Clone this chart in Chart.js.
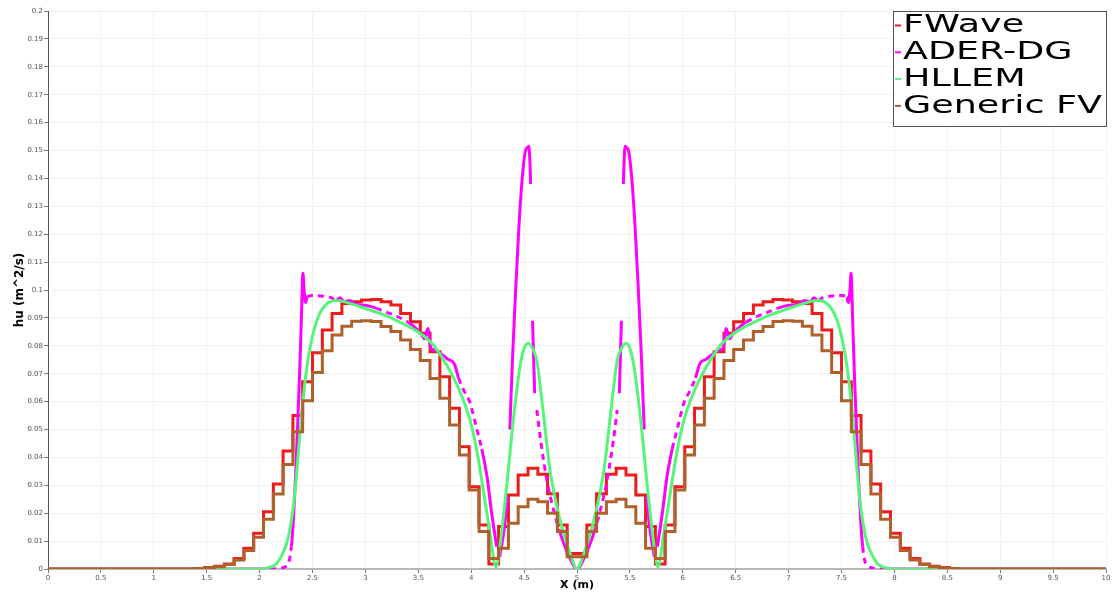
<!DOCTYPE html>
<html lang="en">
<head>
<meta charset="UTF-8">
<title>hu profiles</title>
<script src="https://cdn.jsdelivr.net/npm/chart.js"></script>
<style>
  body { margin: 0; background: #fff; }
  canvas { display: block; }
</style>
</head>
<body>
<canvas id="huChart" width="1115" height="594"></canvas>
<script>
const seriesNames = ['FWave', 'ADER-DG', 'HLLEM', 'Generic FV'];
const seriesColors = ['#ec1c1c', '#ff00ff', '#55f57a', '#b0602c'];

const xTickLabels = ['0', '0.5', '1', '1.5', '2', '2.5', '3', '3.5', '4', '4.5', '5',
  '5.5', '6', '6.5', '7', '7.5', '8', '8.5', '9', '9.5', '10'];
const yTickLabels = ['0', '0.01', '0.02', '0.03', '0.04', '0.05', '0.06', '0.07', '0.08', '0.09', '0.1',
  '0.11', '0.12', '0.13', '0.14', '0.15', '0.16', '0.17', '0.18', '0.19', '0.2'];

// cell left edges of the finite volume grid (only the non-zero part)
const cellEdges = [0,
  1.389, 1.481, 1.574, 1.667, 1.759, 1.852, 1.944, 2.037, 2.130, 2.222,
  2.315, 2.407, 2.500, 2.593, 2.685, 2.778, 2.870, 2.963, 3.056, 3.148,
  3.241, 3.333, 3.426, 3.519, 3.611, 3.704, 3.796, 3.889, 3.981, 4.074,
  4.167, 4.259, 4.352, 4.444, 4.537, 4.630, 4.722, 4.815, 4.907, 5.000,
  5.093, 5.185, 5.278, 5.370, 5.463, 5.556, 5.648, 5.741, 5.833, 5.926,
  6.019, 6.111, 6.204, 6.296, 6.389, 6.481, 6.574, 6.667, 6.759, 6.852,
  6.944, 7.037, 7.130, 7.222, 7.315, 7.407, 7.500, 7.593, 7.685, 7.778,
  7.870, 7.963, 8.056, 8.148, 8.241, 8.333, 8.426, 8.519, 8.611,
  10];

const fwaveValues = [0,
  0.0002, 0.0005, 0.001, 0.0018, 0.0038, 0.0074, 0.0128, 0.0205, 0.0305, 0.0423,
  0.055, 0.0671, 0.0775, 0.0857, 0.0916, 0.0952, 0.0958, 0.0964, 0.0966, 0.0958,
  0.0946, 0.0916, 0.0886, 0.0845, 0.0779, 0.0689, 0.0576, 0.0438, 0.0295, 0.0158,
  0.0018, 0.0152, 0.0265, 0.0337, 0.0361, 0.034, 0.027, 0.0158, 0.0056, 0.0056,
  0.0158, 0.027, 0.034, 0.0361, 0.0337, 0.0265, 0.0152, 0.0018, 0.0158, 0.0295,
  0.0438, 0.0576, 0.0689, 0.0779, 0.0845, 0.0886, 0.0916, 0.0946, 0.0958, 0.0966,
  0.0964, 0.0958, 0.0952, 0.0916, 0.0857, 0.0775, 0.0671, 0.055, 0.0423, 0.0305,
  0.0205, 0.0128, 0.0074, 0.0038, 0.0018, 0.001, 0.0005, 0.0002, 0,
  0];

const genericFvValues = [0,
  0.0002, 0.0004, 0.0008, 0.0016, 0.0032, 0.0066, 0.0114, 0.0178, 0.0269, 0.0375,
  0.0492, 0.0603, 0.0704, 0.0782, 0.0839, 0.087, 0.0888, 0.089, 0.0887, 0.0869,
  0.0851, 0.0821, 0.0787, 0.0747, 0.0683, 0.0612, 0.0516, 0.0409, 0.0283, 0.0134,
  0.0038, 0.0074, 0.0164, 0.0223, 0.025, 0.0241, 0.02, 0.0134, 0.0044, 0.0044,
  0.0134, 0.02, 0.0241, 0.025, 0.0223, 0.0164, 0.0074, 0.0038, 0.0134, 0.0283,
  0.0409, 0.0516, 0.0612, 0.0683, 0.0747, 0.0787, 0.0821, 0.0851, 0.0869, 0.0887,
  0.089, 0.0888, 0.087, 0.0839, 0.0782, 0.0704, 0.0603, 0.0492, 0.0375, 0.0269,
  0.0178, 0.0114, 0.0066, 0.0032, 0.0016, 0.0008, 0.0004, 0.0002, 0,
  0];

const hllemX = [0, 2.0, 2.07, 2.16, 2.21, 2.256, 2.29, 2.319, 2.345, 2.366, 2.398,
  2.439, 2.492, 2.555, 2.634, 2.729, 2.854, 2.95, 3.043, 3.138, 3.32,
  3.516, 3.642, 3.768, 3.894, 3.989, 4.052, 4.114, 4.178, 4.234, 4.29,
  4.335, 4.398, 4.461, 4.50, 4.54, 4.58, 4.619, 4.682, 4.745, 4.839,
  4.934, 5.0,
  5.066, 5.161, 5.255, 5.318, 5.381, 5.42, 5.46, 5.50, 5.539, 5.602,
  5.665, 5.71, 5.766, 5.822, 5.886, 5.948, 6.011, 6.106, 6.232, 6.358,
  6.484, 6.68, 6.862, 6.957, 7.05, 7.146, 7.271, 7.366, 7.445, 7.508,
  7.561, 7.602, 7.634, 7.655, 7.681, 7.71, 7.744, 7.79, 7.84, 7.93,
  8.0, 10];
const hllemY = [0, 0, 0.0003, 0.002, 0.005, 0.0092, 0.015, 0.0223, 0.032, 0.0415, 0.0558,
  0.0701, 0.0821, 0.0904, 0.095, 0.0962, 0.0952, 0.094, 0.0928, 0.0916, 0.0886,
  0.0845, 0.0803, 0.0731, 0.0636, 0.0534, 0.0427, 0.0283, 0.0128, 0.0008, 0.014,
  0.0295, 0.0534, 0.0725, 0.079, 0.0809, 0.079, 0.0749, 0.0558, 0.0355, 0.0176,
  0.0056, 0,
  0.0056, 0.0176, 0.0355, 0.0558, 0.0749, 0.079, 0.0809, 0.079, 0.0725, 0.0534,
  0.0295, 0.014, 0.0008, 0.0128, 0.0283, 0.0427, 0.0534, 0.0636, 0.0731, 0.0803,
  0.0845, 0.0886, 0.0916, 0.0928, 0.094, 0.0952, 0.0962, 0.095, 0.0904, 0.0821,
  0.0701, 0.0558, 0.0415, 0.032, 0.0223, 0.015, 0.0092, 0.005, 0.002, 0.0003,
  0, 0];

// null = break in the ADER-DG line
const aderX = [0, 2.1, 2.2, 2.25, 2.28, 2.30, 2.32, 2.34, 2.36, 2.38, 2.395,
  2.41, 2.42, 2.435, 2.45, 2.5, 2.6, 2.68, 2.72, 2.76, 2.8,
  2.85, 2.9, 3.0, 3.1, 3.2, 3.3, 3.4, 3.48, 3.53, 3.56,
  3.59, 3.62, 3.66, 3.7, 3.78, 3.84, 3.88, 3.93, 3.99, 4.05,
  4.10, 4.15, 4.19, 4.24, 4.255, 4.27, 4.31, 4.345, 4.355, 4.365,
  4.39, 4.42, 4.45, 4.48, 4.51, 4.53, 4.545, 4.555, 4.562, 4.57,
  4.58, 4.60, 4.61, 4.62, 4.66, 4.72, 4.78, 4.84, 4.92, 5.0,
  5.08, 5.16, 5.22, 5.28, 5.34, 5.38, 5.39, 5.40, 5.42, 5.43,
  5.438, 5.445, 5.455, 5.47, 5.49, 5.52, 5.55, 5.58, 5.61, 5.635,
  5.645, 5.655, 5.69, 5.73, 5.745, 5.76, 5.81, 5.85, 5.90, 5.95,
  6.01, 6.07, 6.12, 6.16, 6.22, 6.30, 6.34, 6.38, 6.41, 6.44,
  6.47, 6.52, 6.6, 6.7, 6.8, 6.9, 7.0, 7.1, 7.15, 7.2,
  7.24, 7.28, 7.32, 7.4, 7.5, 7.55, 7.565, 7.58, 7.59, 7.605,
  7.62, 7.64, 7.66, 7.68, 7.70, 7.72, 7.75, 7.8, 7.9, 10];
const aderY = [0, 0, 0.0003, 0.001, 0.003, 0.008, 0.018, 0.033, 0.052, 0.072, 0.09,
  0.106, 0.1, 0.0955, 0.0975, 0.098, 0.0978, 0.0972, 0.0962, 0.0972, 0.0958,
  0.0962, 0.095, 0.0945, 0.0935, 0.092, 0.0905, 0.0885, 0.0862, 0.084, 0.0825,
  0.0862, 0.079, 0.0785, 0.0775, 0.0752, 0.0735, 0.0685, 0.064, 0.0595, 0.0505,
  0.043, 0.033, 0.021, 0.008, null, 0.0045, 0.014, 0.026, null, 0.05,
  0.075, 0.1, 0.122, 0.139, 0.1495, 0.151, 0.1515, 0.146, 0.138, null,
  0.089, 0.063, null, 0.057, 0.045, 0.031, 0.021, 0.013, 0.005, 0,
  0.005, 0.013, 0.021, 0.031, 0.045, 0.057, null, 0.063, 0.089, null,
  0.138, 0.146, 0.1515, 0.151, 0.1495, 0.139, 0.122, 0.1, 0.075, 0.05,
  null, 0.026, 0.014, 0.0045, null, 0.008, 0.021, 0.033, 0.043, 0.0505,
  0.0595, 0.064, 0.0685, 0.0735, 0.0752, 0.0775, 0.0785, 0.079, 0.0862, 0.0825,
  0.084, 0.0862, 0.0885, 0.0905, 0.092, 0.0935, 0.0945, 0.095, 0.0962, 0.0958,
  0.0972, 0.0962, 0.0972, 0.0978, 0.098, 0.0975, 0.0955, 0.1, 0.106, 0.09,
  0.072, 0.052, 0.033, 0.018, 0.008, 0.003, 0.001, 0.0003, 0, 0];

// stretches of the ADER-DG curve that show up broken/dashed
const aderDashed = [[2.1, 2.3], [2.45, 2.72], [3.1, 3.45], [3.86, 4.1], [4.62, 4.84],
  [5.16, 5.38], [5.9, 6.14], [6.55, 6.9], [7.28, 7.55], [7.7, 7.9]];

function pairs(xs, ys) {
  return xs.map((x, i) => ({ x: x, y: ys[i] }));
}

function dashFor(ctx) {
  const a = ctx.p0.parsed.x, b = ctx.p1.parsed.x;
  for (const r of aderDashed) {
    if (a >= r[0] && b <= r[1]) return [6, 5];
  }
  return undefined;
}

const legendBox = {
  id: 'legendBox',
  afterDraw(chart) {
    const ctx = chart.ctx;
    ctx.save();
    ctx.fillStyle = '#fff';
    ctx.fillRect(893, 11, 214, 116);
    ctx.strokeStyle = '#555';
    ctx.lineWidth = 1;
    ctx.strokeRect(893.5, 11.5, 213, 115);
    ctx.font = '24px "DejaVu Sans"';
    ctx.textBaseline = 'alphabetic';
    chart.data.datasets.forEach((ds, i) => {
      const y = 25.5 + i * 26.8;
      ctx.strokeStyle = ds.borderColor;
      ctx.lineWidth = 2;
      ctx.beginPath();
      ctx.moveTo(895, y);
      ctx.lineTo(901, y);
      ctx.stroke();
      ctx.save();
      ctx.translate(903, 32.3 + i * 26.8);
      ctx.scale(1.52, 1);
      ctx.fillStyle = '#000';
      ctx.fillText(ds.label, 0, 0);
      ctx.restore();
    });
    ctx.restore();
  }
};

const ctx = document.getElementById('huChart').getContext('2d');
new Chart(ctx, {
  type: 'line',
  data: {
    datasets: [
      {
        label: seriesNames[0],
        data: pairs(cellEdges, fwaveValues),
        borderColor: seriesColors[0],
        borderWidth: 3,
        stepped: true,
        order: 4
      },
      {
        label: seriesNames[1],
        data: pairs(aderX, aderY),
        borderColor: seriesColors[1],
        borderWidth: 3,
        cubicInterpolationMode: 'monotone',
        segment: { borderDash: dashFor },
        order: 3
      },
      {
        label: seriesNames[2],
        data: pairs(hllemX, hllemY),
        borderColor: seriesColors[2],
        borderWidth: 3,
        cubicInterpolationMode: 'monotone',
        order: 2
      },
      {
        label: seriesNames[3],
        data: pairs(cellEdges, genericFvValues),
        borderColor: seriesColors[3],
        borderWidth: 3,
        stepped: true,
        order: 1
      }
    ]
  },
  options: {
    responsive: false,
    animation: false,
    devicePixelRatio: 1,
    layout: { padding: { top: 11, right: 9, left: 0, bottom: 0 } },
    elements: { point: { radius: 0, hoverRadius: 0 } },
    plugins: {
      legend: { display: false },
      tooltip: { enabled: false }
    },
    scales: {
      x: {
        type: 'linear',
        min: 0,
        max: 10,
        afterFit(scale) { scale.height = 25; },
        ticks: {
          stepSize: 0.5,
          autoSkip: false,
          maxRotation: 0,
          padding: 1,
          color: '#555',
          font: { family: 'DejaVu Sans', size: 7 },
          callback: (v, i) => xTickLabels[i]
        },
        grid: { color: '#f1f1f1', tickColor: '#777', tickLength: 4 },
        border: { color: '#b8b8b8', width: 2 },
        title: {
          display: true,
          text: 'X (m)',
          color: '#000',
          padding: { top: 0, bottom: 2 },
          font: { family: 'DejaVu Sans', size: 11, weight: 'bold' }
        }
      },
      y: {
        min: 0,
        max: 0.2,
        afterFit(scale) { scale.width = 48; },
        ticks: {
          stepSize: 0.01,
          autoSkip: false,
          padding: 1,
          color: '#555',
          font: { family: 'DejaVu Sans', size: 7 },
          callback: (v, i) => yTickLabels[i]
        },
        grid: { color: '#f1f1f1', tickColor: '#777', tickLength: 4 },
        border: { color: '#555', width: 1 },
        title: {
          display: true,
          text: 'hu (m^2/s)',
          color: '#000',
          padding: { top: 13, bottom: 0 },
          font: { family: 'DejaVu Sans', size: 12, weight: 'bold' }
        }
      }
    }
  },
  plugins: [legendBox]
});
</script>
</body>
</html>
